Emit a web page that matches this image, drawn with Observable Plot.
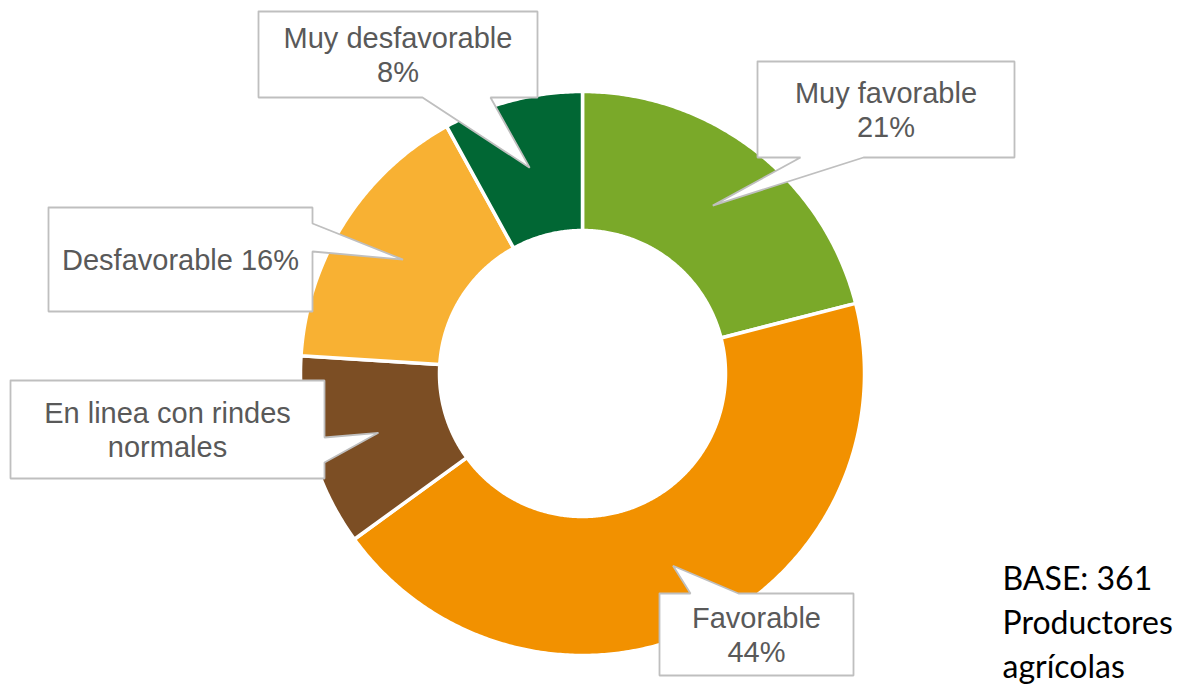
<!DOCTYPE html>
<html>
<head>
<meta charset="utf-8">
<script src="https://cdn.jsdelivr.net/npm/d3@7"></script>
<script src="https://cdn.jsdelivr.net/npm/@observablehq/plot@0.6"></script>
<style>
  html, body { margin: 0; padding: 0; background: #fff; overflow: hidden; }
  #chart svg { display: block; }
</style>
</head>
<body>
<div id="chart"></div>
<script>
// ---- data ----
const categories = ["Muy favorable", "Favorable", "En linea con rindes normales", "Desfavorable", "Muy desfavorable"];
const values = [21, 44, 11, 16, 8];
const colors = ["#7aa929", "#f29100", "#7c4e24", "#f8b133", "#016734"];
const labels = ["Muy favorable\n21%", "Favorable\n44%", "En linea con rindes\nnormales", "Desfavorable 16%", "Muy desfavorable\n8%"];
const baseNote = ["BASE: 361", "Productores", "agrícolas"];

// ---- layout ----
const W = 1193, H = 684;
const CX = 582, CY = 373, R_OUT = 282, R_IN = 143;
// callout boxes: [x0, y0, x1, y1], side where the pointer leaves, pointer base span
const callouts = [
  {box: [757, 61, 1014, 157], side: "bottom", notch: [800, 863]},
  {box: [659, 593, 853, 675], side: "top", notch: [690, 738]},
  {box: [10, 380, 324, 478], side: "right", notch: [437, 462]},
  {box: [48, 207, 312, 311], side: "right", notch: [223, 251]},
  {box: [258, 11, 537, 97], side: "bottom", notch: [422, 490]}
];
const baseLayout = {x: 1002, y: 558};

// ---- derived geometry ----
const arcs = d3.pie().sort(null).value(d => d).startAngle(0).endAngle(2 * Math.PI)(values);
const pt = (a, r) => ({x: CX + r * Math.sin(a), y: CY - r * Math.cos(a)});

const ringPoints = [];
arcs.forEach((a, i) => {
  const n = Math.max(2, Math.ceil((a.endAngle - a.startAngle) / (Math.PI / 360)));
  const pts = [];
  for (let k = 0; k <= n; k++) pts.push(pt(a.startAngle + (a.endAngle - a.startAngle) * k / n, R_OUT));
  for (let k = n; k >= 0; k--) pts.push(pt(a.startAngle + (a.endAngle - a.startAngle) * k / n, R_IN));
  pts.push(pts[0]);
  pts.forEach(p => ringPoints.push({cat: categories[i], x: p.x, y: p.y}));
});

const arcGen = d3.arc().innerRadius(R_IN).outerRadius(R_OUT);
const calloutPoints = [];
const labelRows = [];
callouts.forEach((c, i) => {
  const [cx, cy] = arcGen.centroid(arcs[i]);
  const tip = {x: CX + cx, y: CY + cy};
  const [x0, y0, x1, y1] = c.box;
  const [a, b] = c.notch;
  let pts = [];
  pts.push({x: x0, y: y0});
  if (c.side === "top") pts.push({x: a, y: y0}, tip, {x: b, y: y0});
  pts.push({x: x1, y: y0});
  if (c.side === "right") pts.push({x: x1, y: a}, tip, {x: x1, y: b});
  pts.push({x: x1, y: y1});
  if (c.side === "bottom") pts.push({x: b, y: y1}, tip, {x: a, y: y1});
  pts.push({x: x0, y: y1});
  if (c.side === "left") pts.push({x: x0, y: b}, tip, {x: x0, y: a});
  pts.push({x: x0, y: y0});
  pts.forEach(p => calloutPoints.push({id: i, x: p.x, y: p.y}));
  labelRows.push({x: (x0 + x1) / 2, y: (y0 + y1) / 2, text: labels[i]});
});

const chart = Plot.plot({
  width: W,
  height: H,
  margin: 0,
  x: {domain: [0, W], range: [0, W], axis: null},
  y: {domain: [0, H], range: [0, H], axis: null},
  color: {domain: categories, range: colors},
  marks: [
    Plot.line(ringPoints, {x: "x", y: "y", z: "cat", fill: "cat", stroke: "white", strokeWidth: 3.5, strokeLinejoin: "round"}),
    Plot.line(calloutPoints, {x: "x", y: "y", z: "id", fill: "white", stroke: "#bfbfbf", strokeWidth: 1.8, strokeLinejoin: "miter"}),
    Plot.text(labelRows, {x: "x", y: "y", text: "text", fontSize: 29, fill: "#595959", lineAnchor: "middle", lineHeight: 1.16, fontFamily: "Liberation Sans"}),
    Plot.text([baseNote.join("\n")], {x: () => baseLayout.x, y: () => baseLayout.y, text: d => d, textAnchor: "start", lineAnchor: "top", fontSize: 32, lineHeight: 1.375, fill: "#000", fontFamily: "Lato"})
  ]
});
document.getElementById("chart").appendChild(chart);
</script>
</body>
</html>
